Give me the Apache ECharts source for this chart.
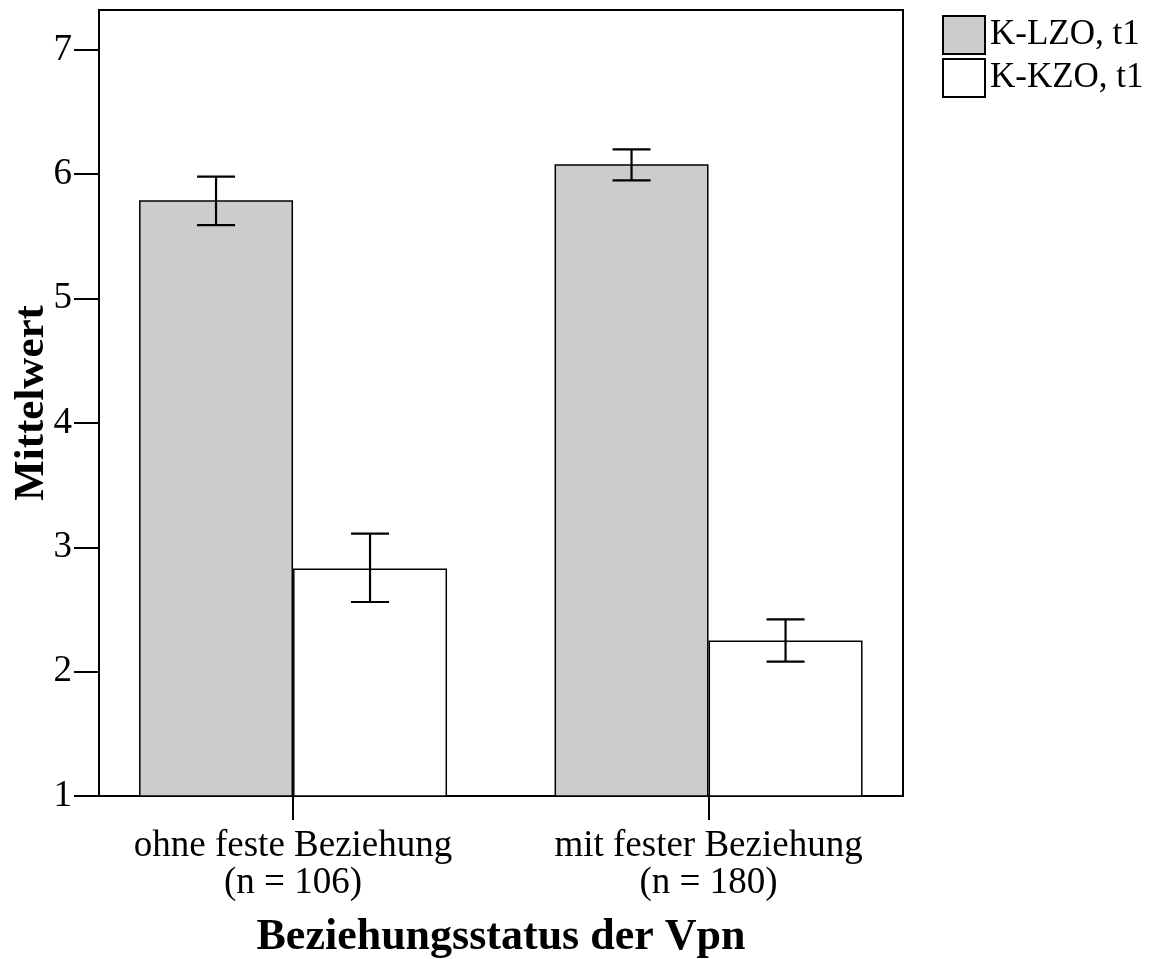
<!DOCTYPE html>
<html>
<head>
<meta charset="utf-8">
<script src="https://cdn.jsdelivr.net/npm/echarts@6/dist/echarts.min.js"></script>
<style>
  html, body { margin: 0; padding: 0; background: #fff; }
  #main { width: 1156px; height: 959px; }
</style>
</head>
<body>
<div id="main"></div>
<script>
// Beziehungsstatus – Mittelwerte mit Fehlerbalken
var kategorien = ['ohne feste Beziehung\n(n = 106)', 'mit fester Beziehung\n(n = 180)'];
var kategoriePos = [0, 1];
var serienNamen = ['K-LZO, t1', 'K-KZO, t1'];
var lzoMittel = [5.79, 6.08];
var lzoUnten = [5.59, 5.95];
var lzoOben = [5.98, 6.20];
var kzoMittel = [2.83, 2.25];
var kzoUnten = [2.56, 2.08];
var kzoOben = [3.11, 2.42];
var yTicks = [1, 2, 3, 4, 5, 6, 7];

var schrift = 'Liberation Serif, Times New Roman, serif';
var balkenBreite = 154;

var myChart = echarts.init(document.getElementById('main'));

function paare(werte) {
    return werte.map(function (v, i) { return [kategoriePos[i], v]; });
}
function fehlerDaten(unten, oben) {
    return unten.map(function (u, i) { return [kategoriePos[i], u, oben[i]]; });
}
function fehlerBalken(verschiebung) {
    return function (params, api) {
        var x = api.value(0);
        var lo = api.coord([x, api.value(1)]);
        var hi = api.coord([x, api.value(2)]);
        var cx = lo[0] + verschiebung;
        var halb = 19;
        var stil = { stroke: '#000', lineWidth: 2.2 };
        return {
            type: 'group',
            children: [
                { type: 'line', shape: { x1: cx, y1: hi[1], x2: cx, y2: lo[1] }, style: stil },
                { type: 'line', shape: { x1: cx - halb, y1: hi[1], x2: cx + halb, y2: hi[1] }, style: stil },
                { type: 'line', shape: { x1: cx - halb, y1: lo[1], x2: cx + halb, y2: lo[1] }, style: stil }
            ]
        };
    };
}

var option = {
    animation: false,
    backgroundColor: '#fff',
    textStyle: { fontFamily: schrift, color: '#000' },
    grid: {
        left: 99, right: 253, top: 10, bottom: 163,
        outerBoundsMode: 'none',
        containLabel: false,
        show: true, borderColor: '#000', borderWidth: 2, backgroundColor: 'transparent'
    },
    legend: {
        data: serienNamen,
        orient: 'vertical',
        left: 942, top: 15,
        padding: 0,
        icon: 'rect',
        itemWidth: 42, itemHeight: 38, itemGap: 3,
        textStyle: { fontFamily: schrift, fontSize: 35, color: '#000', padding: [0, 0, 10, 0] }
    },
    xAxis: {
        type: 'value',
        min: -0.467, max: 1.468,
        name: 'Beziehungsstatus der Vpn',
        nameLocation: 'middle',
        nameGap: 120,
        nameTextStyle: { fontFamily: schrift, fontSize: 44, fontWeight: 'bold', color: '#000' },
        splitLine: { show: false },
        axisLine: { onZero: false, lineStyle: { color: '#000', width: 2 } },
        axisTick: { length: 24, customValues: kategoriePos, lineStyle: { color: '#000', width: 2 } },
        axisLabel: {
            customValues: kategoriePos,
            margin: 32,
            fontFamily: schrift, fontSize: 37, color: '#000', lineHeight: 37,
            formatter: function (v) { return kategorien[Math.round(v)] || ''; }
        }
    },
    yAxis: {
        type: 'value',
        min: 1, max: 7.32, interval: 1,
        name: 'Mittelwert',
        nameLocation: 'middle',
        nameGap: 50,
        nameMoveOverlap: false,
        nameTextStyle: { fontFamily: schrift, fontSize: 43, fontWeight: 'bold', color: '#000', padding: [0, 0, -4, 0] },
        splitLine: { show: false },
        axisLine: { show: true, onZero: false, lineStyle: { color: '#000', width: 2 } },
        axisTick: { show: true, length: 25, customValues: yTicks, lineStyle: { color: '#000', width: 2 } },
        axisLabel: {
            customValues: yTicks,
            margin: 27,
            fontFamily: schrift, fontSize: 37, color: '#000'
        }
    },
    series: [
        {
            name: serienNamen[0],
            type: 'bar',
            barWidth: balkenBreite,
            barGap: '0%',
            itemStyle: { color: '#cccccc', borderColor: '#000', borderWidth: 1.5 },
            data: paare(lzoMittel)
        },
        {
            name: serienNamen[1],
            type: 'bar',
            barWidth: balkenBreite,
            barGap: '0%',
            itemStyle: { color: '#ffffff', borderColor: '#000', borderWidth: 1.5 },
            data: paare(kzoMittel)
        },
        {
            type: 'custom',
            renderItem: fehlerBalken(-balkenBreite / 2),
            encode: { x: 0, y: [1, 2] },
            z: 10,
            data: fehlerDaten(lzoUnten, lzoOben)
        },
        {
            type: 'custom',
            renderItem: fehlerBalken(balkenBreite / 2),
            encode: { x: 0, y: [1, 2] },
            z: 10,
            data: fehlerDaten(kzoUnten, kzoOben)
        }
    ]
};

myChart.setOption(option);
</script>
</body>
</html>
